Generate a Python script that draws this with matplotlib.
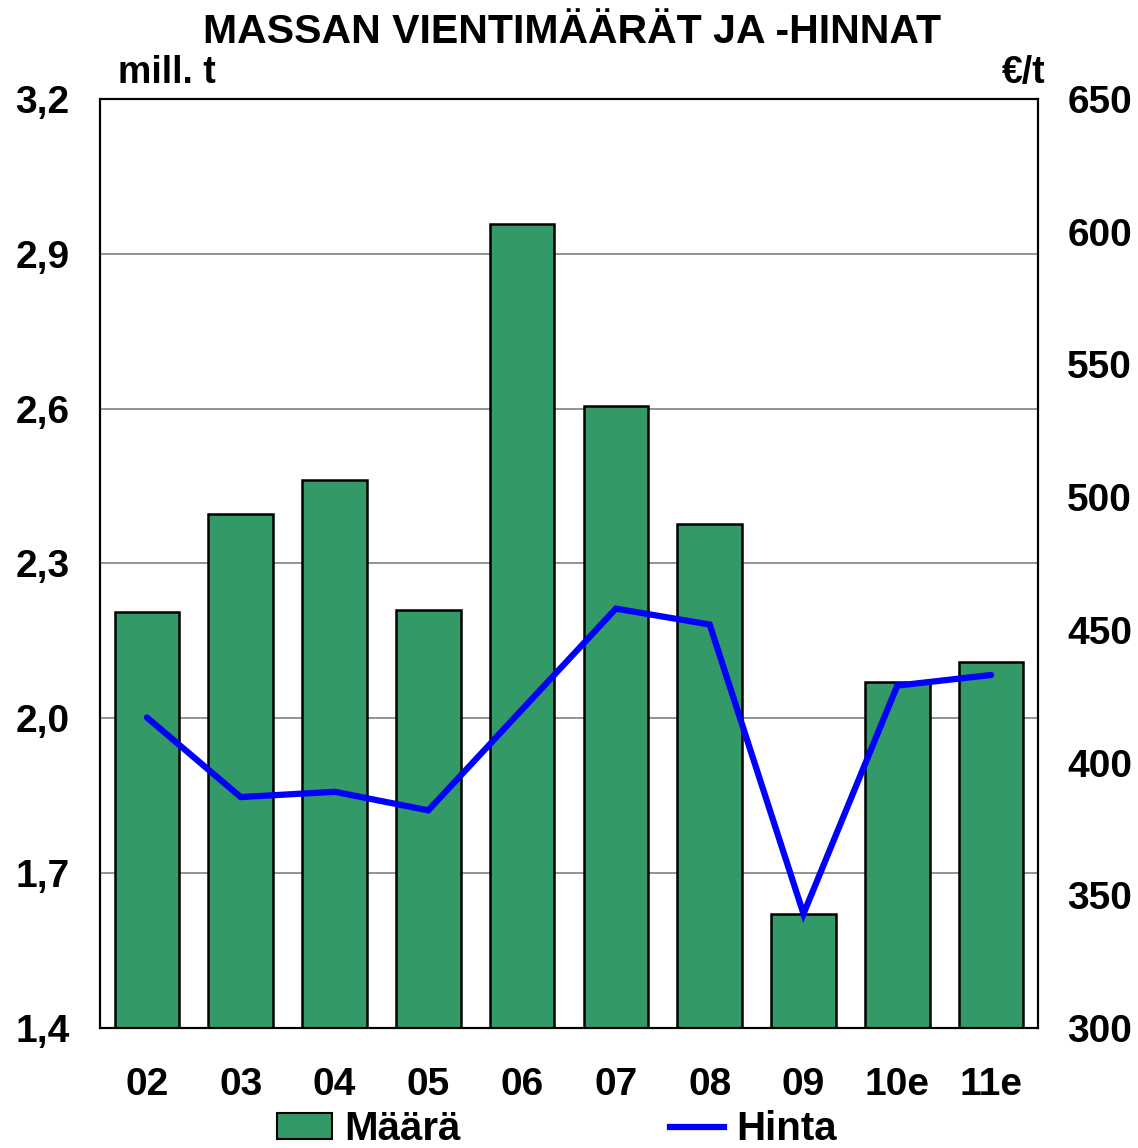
import matplotlib
matplotlib.use("Agg")
import matplotlib.pyplot as plt
from matplotlib.patches import Patch
from matplotlib.lines import Line2D

categories = ["02", "03", "04", "05", "06", "07", "08", "09", "10e", "11e"]
maara = [2.206, 2.396, 2.462, 2.210, 2.958, 2.605, 2.377, 1.621, 2.071, 2.109]
hinta = [417, 387, 389, 382, 420, 458, 452, 343, 429, 433]
left_ticks = [1.4, 1.7, 2.0, 2.3, 2.6, 2.9, 3.2]
right_ticks = [300, 350, 400, 450, 500, 550, 600, 650]

plt.rcParams['font.family'] = ['Liberation Sans', 'DejaVu Sans']
plt.rcParams['font.weight'] = 'bold'

fig = plt.figure(figsize=(11.38, 11.48), dpi=100)
ax = fig.add_axes([100/1138, 1 - 1028/1148, 938/1138, 929/1148])
x = list(range(len(categories)))
ax.bar(x, maara, width=0.69, bottom=0, color="#339966", edgecolor="black", linewidth=1.8, zorder=2)
ax.set_ylim(1.4, 3.2)
ax.set_xlim(-0.5, len(categories) - 0.5)
ax.set_yticks(left_ticks)
ax.set_yticklabels([f"{v:.1f}".replace(".", ",") for v in left_ticks])
for v in left_ticks[1:-1]:
    ax.axhline(v, color="#808080", linewidth=1.2, zorder=1)
ax.set_xticks(x)
ax.set_xticklabels(categories)
ax.tick_params(axis="both", length=0, labelsize=28)
ax.tick_params(axis="x", pad=28)
ax.tick_params(axis="y", pad=22)
for lab in ax.get_xticklabels() + ax.get_yticklabels():
    lab.set_fontweight("bold")

ax2 = ax.twinx()
ax2.plot(x, hinta, color="#0000FF", linewidth=4.5, solid_capstyle="round", solid_joinstyle="miter", zorder=3)
ax2.set_ylim(300, 650)
ax2.set_yticks(right_ticks)
ax2.set_yticklabels([str(v) for v in right_ticks])
ax2.tick_params(axis="y", length=0, labelsize=28, pad=21)
for lab in ax2.get_yticklabels():
    lab.set_fontweight("bold")

for a in (ax, ax2):
    for s in a.spines.values():
        s.set_color("black")
        s.set_linewidth(1.5)

fig.text(572/1138, 1 - 32/1148, "MASSAN VIENTIMÄÄRÄT JA -HINNAT", ha="center", va="center", fontsize=29.5, fontweight="bold")
fig.text(118/1138, 1 - 73/1148, "mill. t", ha="left", va="center", fontsize=27, fontweight="bold")
fig.text(1046/1138, 1 - 73/1148, "€/t", ha="right", va="center", fontsize=27, fontweight="bold")

handles = [Patch(facecolor="#339966", edgecolor="black", linewidth=1.5),
           Line2D([0], [0], color="#0000FF", linewidth=4.5)]
fig.legend(handles, ["Määrä", "Hinta"], loc="center", bbox_to_anchor=(557/1138, 1 - 1129/1148),
           ncol=2, frameon=False, columnspacing=5.2, handlelength=1.35, handleheight=0.6, handletextpad=0.3,
           prop={"weight": "bold", "size": 29})

fig.savefig("out.png", dpi=100)
